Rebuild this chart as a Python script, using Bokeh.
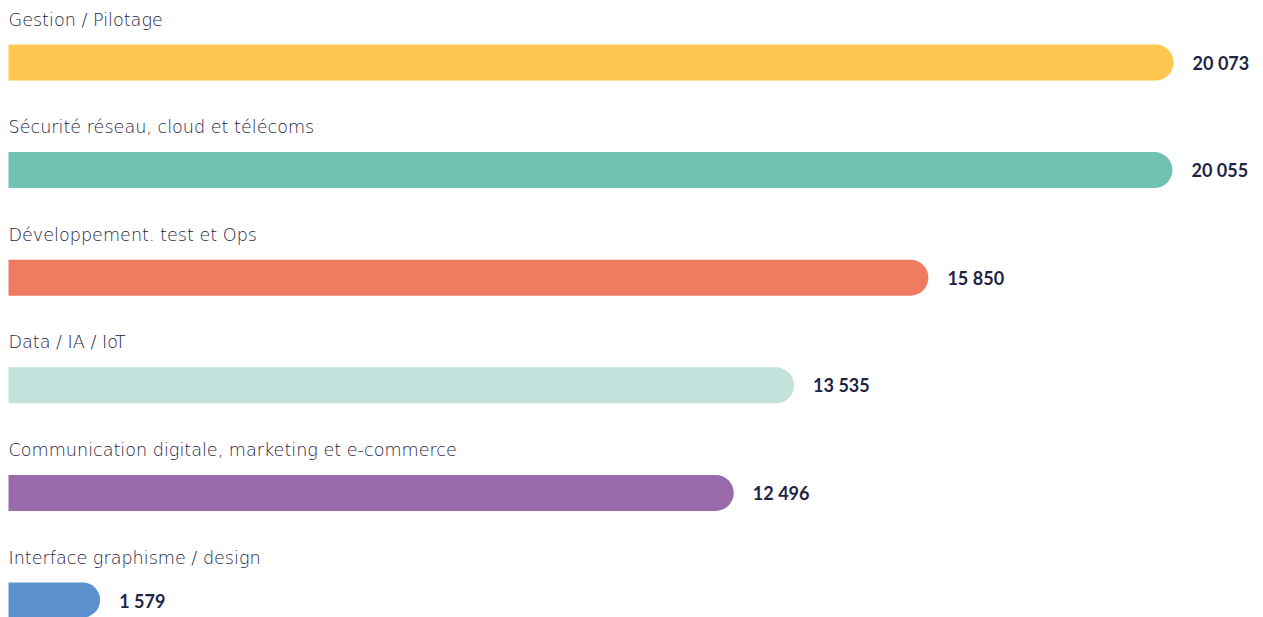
from bokeh.plotting import figure
from bokeh.models import Range1d, ColumnDataSource
from bokeh.core.properties import value
from bokeh.embed import file_html
from bokeh.resources import INLINE

categories = [
    "Gestion / Pilotage",
    "Sécurité réseau, cloud et télécoms",
    "Développement. test et Ops",
    "Data / IA / IoT",
    "Communication digitale, marketing et e-commerce",
    "Interface graphisme / design",
]
values = [20073, 20055, 15850, 13535, 12496, 1579]
colors = ["#FEC64F", "#70C3B3", "#EF7B61", "#C2E2DB", "#9B6AAB", "#5B91CC"]

def fmt(v):
    return f"{v:,}".replace(",", "\u202f")

W, H = 1263, 617
px_per_unit = 1165 / 20073
x0 = 8
row = 107.6
top = 62

idx = list(range(len(values)))
src = ColumnDataSource(dict(
    y=idx,
    ylab=[i - 43 / row for i in idx],
    v=values,
    left=[0] * len(values),
    zero=[0] * len(values),
    color=colors,
    cat=categories,
    lab=[fmt(v) for v in values],
))

p = figure(width=W, height=H, output_backend="svg", toolbar_location=None,
           x_range=Range1d(-x0 / px_per_unit, (W - x0) / px_per_unit),
           y_range=Range1d((H - top) / row, -top / row),
           min_border=0, outline_line_color=None)
p.axis.visible = False
p.grid.visible = False
p.background_fill_color = "white"
p.border_fill_color = "white"

p.hbar(y="y", left="left", right="v", height=36 / row, fill_color="color",
       line_color=None, source=src, border_radius=(0, 18, 18, 0))

p.text(x="zero", y="ylab", text="cat", source=src,
       text_font=value("'DejaVu Sans Light', 'DejaVu Sans'"),
       text_font_size="17.6px", text_color="#1F2445", text_baseline="middle",
       text_align="left")
p.text(x="v", y="y", text="lab", source=src, text_font=value("Lato"),
       text_font_size="18px", text_font_style="bold", text_color="#1F2445",
       text_baseline="middle", text_align="left", x_offset=19)

open("out.html", "w").write(file_html(p, INLINE))
